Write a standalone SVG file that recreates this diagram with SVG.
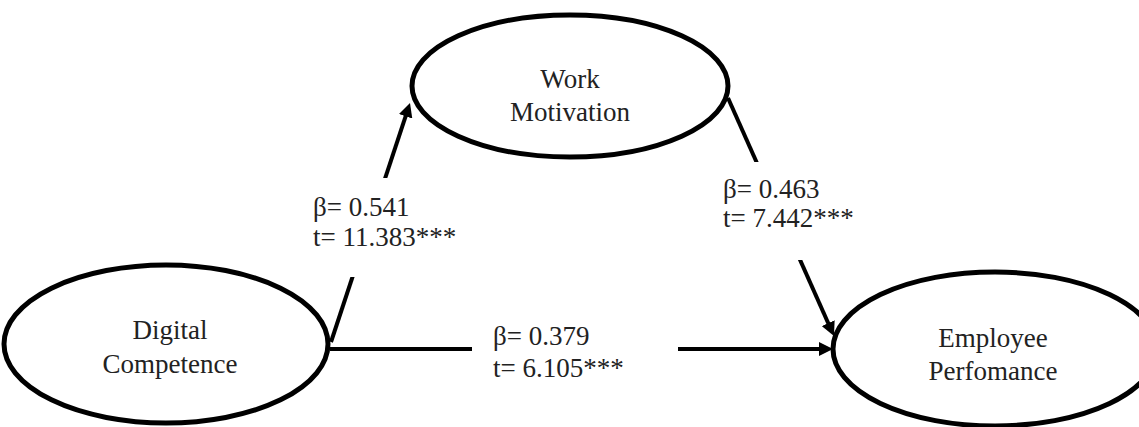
<svg xmlns="http://www.w3.org/2000/svg" width="1139" height="427" viewBox="0 0 1139 427">
<style>
.node{fill:#fff;stroke:#000;stroke-width:5}
.edge{stroke:#000;stroke-width:4;fill:none}
.t{font-family:"Liberation Serif","Times New Roman",serif;font-size:27px;fill:#222}
.c{text-anchor:middle}
.bg{fill:#fff;stroke:none}
</style>
<defs>
<marker id="arr" markerUnits="userSpaceOnUse" markerWidth="14" markerHeight="14" refX="6" refY="7" orient="auto">
<path d="M0,0 L14,7 L0,14 z" fill="#000"/>
</marker>
</defs>
<g id="connectors">
<line class="edge" x1="331" y1="342" x2="407.5" y2="110.6" marker-end="url(#arr)"/>
<line class="edge" x1="728" y1="98" x2="830.7" y2="328.7" marker-end="url(#arr)"/>
<line class="edge" x1="330" y1="349" x2="825" y2="349" marker-end="url(#arr)"/>
<rect class="bg" x="305" y="178" width="160" height="99"/>
<rect class="bg" x="715" y="162" width="150" height="98"/>
<rect class="bg" x="472" y="318" width="206" height="75"/>
<text class="t" x="313" y="216">β= 0.541</text>
<text class="t" x="313" y="246">t= 11.383***</text>
<text class="t" x="723" y="198">β= 0.463</text>
<text class="t" x="723" y="227">t= 7.442***</text>
<text class="t" x="493" y="345">β= 0.379</text>
<text class="t" x="493" y="377">t= 6.105***</text>
</g>
<g id="work-motivation">
<ellipse class="node" cx="570" cy="86" rx="158" ry="71"/>
<text class="t c" x="570" y="88">Work</text>
<text class="t c" x="570" y="121">Motivation</text>
</g>
<g id="digital-competence">
<ellipse class="node" cx="166" cy="344" rx="162" ry="79"/>
<text class="t c" x="170" y="339">Digital</text>
<text class="t c" x="170" y="373">Competence</text>
</g>
<g id="employee-performance">
<ellipse class="node" cx="995" cy="349" rx="162" ry="77"/>
<text class="t c" x="993" y="347">Employee</text>
<text class="t c" x="993" y="380">Perfomance</text>
</g>
</svg>
